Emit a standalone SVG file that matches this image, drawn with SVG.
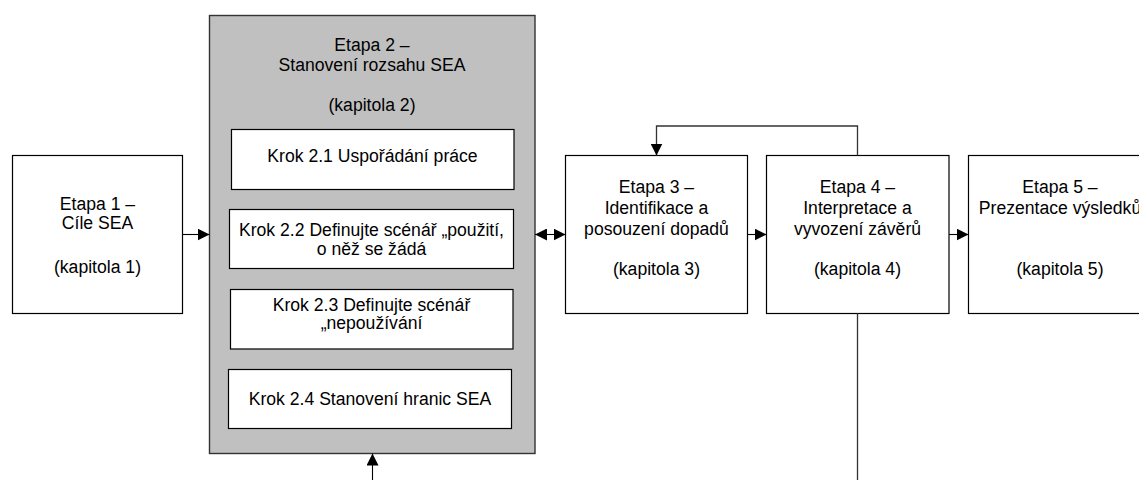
<svg xmlns="http://www.w3.org/2000/svg" width="1139" height="480" viewBox="0 0 1139 480">
  <defs>
    <marker id="head" viewBox="0 0 12 12" refX="12" refY="6" markerWidth="12" markerHeight="12" markerUnits="userSpaceOnUse" orient="auto">
      <path d="M0,0 L12,6 L0,12 Z" fill="#000"/>
    </marker>
    <marker id="tail" viewBox="0 0 12 12" refX="0" refY="6" markerWidth="12" markerHeight="12" markerUnits="userSpaceOnUse" orient="auto">
      <path d="M12,0 L0,6 L12,12 Z" fill="#000"/>
    </marker>
    <style>
      .box { fill: #fff; stroke: #000; stroke-width: 1.2; }
      .stage { fill: #c0c0c0; stroke: #333; stroke-width: 1.4; }
      .lbl { font-family: "Liberation Sans", Arial, sans-serif; font-size: 17.6px; fill: #000; text-anchor: middle; }
      .wire { fill: none; stroke: #000; stroke-width: 1.1; }
      .feed { fill: none; stroke: #333; stroke-width: 1.3; }
    </style>
  </defs>

  <rect width="1139" height="480" fill="#fff"/>

  <!-- Stage 1 -->
  <g id="etapa1">
    <rect class="box" x="12.5" y="155.5" width="170" height="158"/>
    <text class="lbl" x="97.5" y="210">Etapa 1 –</text>
    <text class="lbl" x="97.5" y="229">Cíle SEA</text>
    <text class="lbl" x="97.5" y="273">(kapitola 1)</text>
  </g>

  <!-- Stage 2 with its four steps -->
  <g id="etapa2">
    <rect class="stage" x="209.5" y="15.5" width="325.5" height="438"/>
    <text class="lbl" x="372" y="51">Etapa 2 –</text>
    <text class="lbl" x="372" y="71">Stanovení rozsahu SEA</text>
    <text class="lbl" x="372" y="111">(kapitola 2)</text>
  </g>
  <g id="krok21">
    <rect class="box" x="231.5" y="129.5" width="282.5" height="60"/>
    <text class="lbl" x="372.5" y="162">Krok 2.1 Uspořádání práce</text>
  </g>
  <g id="krok22">
    <rect class="box" x="229.5" y="209.5" width="284" height="59"/>
    <text class="lbl" x="371.5" y="236">Krok 2.2 Definujte scénář „použití,</text>
    <text class="lbl" x="371.5" y="255">o něž se žádá</text>
  </g>
  <g id="krok23">
    <rect class="box" x="230.5" y="289.5" width="282.5" height="59.5"/>
    <text class="lbl" x="371.5" y="311">Krok 2.3 Definujte scénář</text>
    <text class="lbl" x="371.5" y="329">„nepoužívání</text>
  </g>
  <g id="krok24">
    <rect class="box" x="228.5" y="369.5" width="283" height="59"/>
    <text class="lbl" x="370" y="405">Krok 2.4 Stanovení hranic SEA</text>
  </g>

  <!-- Stage 3 -->
  <g id="etapa3">
    <rect class="box" x="565.5" y="155.5" width="182" height="158"/>
    <text class="lbl" x="656.5" y="193">Etapa 3 –</text>
    <text class="lbl" x="656.5" y="214">Identifikace a</text>
    <text class="lbl" x="656.5" y="235">posouzení dopadů</text>
    <text class="lbl" x="656.5" y="275">(kapitola 3)</text>
  </g>

  <!-- Stage 4 -->
  <g id="etapa4">
    <rect class="box" x="766.5" y="155.5" width="182.5" height="158"/>
    <text class="lbl" x="857.5" y="193">Etapa 4 –</text>
    <text class="lbl" x="857.5" y="214">Interpretace a</text>
    <text class="lbl" x="857.5" y="235">vyvození závěrů</text>
    <text class="lbl" x="857.5" y="275">(kapitola 4)</text>
  </g>

  <!-- Stage 5 (runs past the right edge) -->
  <g id="etapa5">
    <rect class="box" x="968.5" y="155.5" width="183" height="158"/>
    <text class="lbl" x="1060" y="193">Etapa 5 –</text>
    <text class="lbl" x="1060" y="214">Prezentace výsledků</text>
    <text class="lbl" x="1060" y="275">(kapitola 5)</text>
  </g>

  <!-- Connectors -->
  <g id="connectors">
    <line class="wire" x1="182.5" y1="234.5" x2="209.5" y2="234.5" marker-end="url(#head)"/>
    <line class="wire" x1="535" y1="234.5" x2="565.5" y2="234.5" marker-start="url(#tail)" marker-end="url(#head)"/>
    <line class="wire" x1="747.5" y1="234.5" x2="766.5" y2="234.5" marker-end="url(#head)"/>
    <line class="wire" x1="949" y1="234.5" x2="968.5" y2="234.5" marker-end="url(#head)"/>
    <line class="wire" x1="372.5" y1="480" x2="372.5" y2="453.5" marker-end="url(#head)"/>
    <polyline class="feed" points="857.5,155.5 857.5,126 656.5,126 656.5,155.5" marker-end="url(#head)"/>
    <line class="feed" x1="857.5" y1="313.5" x2="857.5" y2="480"/>
  </g>
</svg>
